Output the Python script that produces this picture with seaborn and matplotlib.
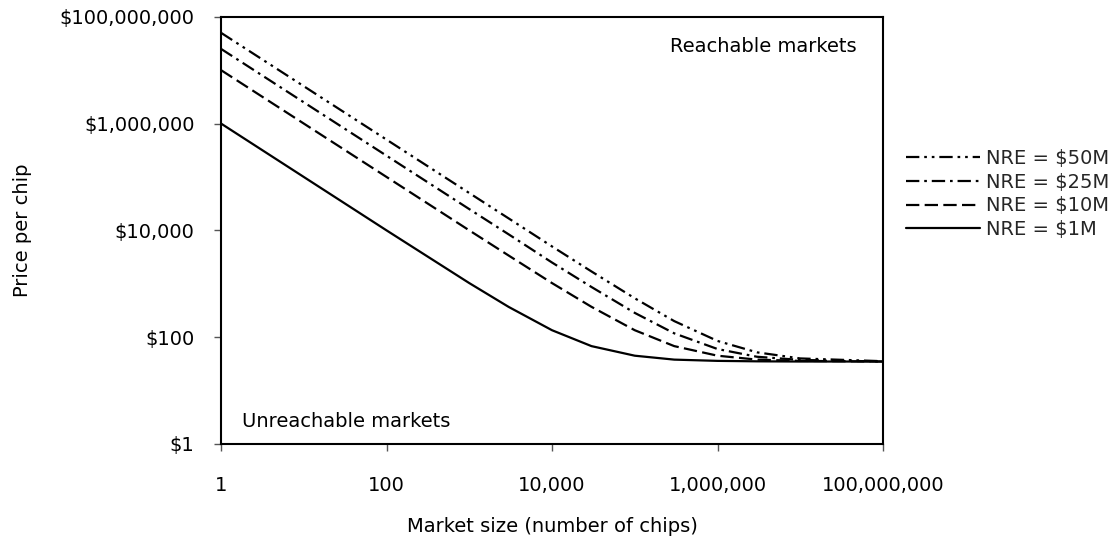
import numpy as np
import pandas as pd
import matplotlib
matplotlib.use("Agg")
import matplotlib.pyplot as plt
import matplotlib.ticker as mticker
import seaborn as sns

# ---- data ----
market_size = [1, 10, 100, 1e3, 3e3, 1e4, 3e4, 1e5, 3e5, 1e6, 3e6, 1e7, 1e8]
price_nre_50m = [5.0e7, 5.0e6, 5.0e5, 5.0e4, 1.67e4, 5.0e3, 1.7e3, 535, 200, 85, 52, 40, 35.5]
price_nre_25m = [2.5e7, 2.5e6, 2.5e5, 2.5e4, 8.4e3, 2.5e3, 870, 285, 118, 60, 43, 37.5, 35]
price_nre_10m = [1.0e7, 1.0e6, 1.0e5, 1.0e4, 3.37e3, 1.03e3, 370, 135, 68, 45, 38, 36, 35]
price_nre_1m = [1.0e6, 1.0e5, 1.0e4, 1.03e3, 368, 135, 68, 45, 38, 36, 35.3, 35, 35]
series_labels = ["NRE = $50M", "NRE = $25M", "NRE = $10M", "NRE = $1M"]
x_ticks = [1, 1e2, 1e4, 1e6, 1e8]
y_ticks = [1, 1e2, 1e4, 1e6, 1e8]

frames = []
for lab, vals in zip(series_labels, [price_nre_50m, price_nre_25m, price_nre_10m, price_nre_1m]):
    frames.append(pd.DataFrame({"Market size": market_size, "Price": vals, "Series": lab}))
df = pd.concat(frames, ignore_index=True)

sns.set_theme(style="white")
plt.rcParams["font.family"] = ["DejaVu Sans"]

W, H = 1119, 539
fig = plt.figure(figsize=(W / 100, H / 100), dpi=100)
ax = fig.add_axes([221 / W, 1 - 444 / H, (883 - 221) / W, (444 - 16.7) / H])

lw = 1.6
dashes = {
    "NRE = $50M": (6, 2.2, 1.2, 2.2, 1.2, 2.2),
    "NRE = $25M": (6, 2.2, 1.2, 2.2),
    "NRE = $10M": (6, 2.4),
    "NRE = $1M": "",
}
palette = {lab: "black" for lab in series_labels}

sns.lineplot(data=df, x="Market size", y="Price", hue="Series", style="Series",
             hue_order=series_labels, style_order=series_labels,
             palette=palette, dashes=dashes, linewidth=lw, ax=ax, legend=True)

ax.set_xscale("log")
ax.set_yscale("log")
ax.set_xlim(1, 1e8)
ax.set_ylim(1, 1e8)
ax.set_xticks(x_ticks)
ax.set_yticks(y_ticks)
ax.xaxis.set_minor_locator(mticker.NullLocator())
ax.yaxis.set_minor_locator(mticker.NullLocator())
ax.xaxis.set_major_formatter(mticker.FuncFormatter(lambda v, p: f"{v:,.0f}"))
ax.yaxis.set_major_formatter(mticker.FuncFormatter(lambda v, p: f"${v:,.0f}"))

for s in ax.spines.values():
    s.set_visible(True)
    s.set_color("black")
    s.set_linewidth(1.5)

ax.tick_params(axis="both", which="major", direction="out", length=5, width=1,
               color="#555555", labelsize=14, labelcolor="black", bottom=True, left=True)
ax.tick_params(axis="y", pad=14)
ax.tick_params(axis="x", pad=18)

ax.set_xlabel("Market size (number of chips)", fontsize=14, color="black")
ax.set_ylabel("Price per chip", fontsize=14, color="black")
ax.xaxis.set_label_coords(0.5, -0.17)
ax.yaxis.set_label_coords(-0.2855, 0.5)

ax.text(857 / W, 1 - 47 / H, "Reachable markets", transform=fig.transFigure,
        ha="right", va="center", fontsize=14, color="black")
ax.text(242 / W, 1 - 421.7 / H, "Unreachable markets", transform=fig.transFigure,
        ha="left", va="center", fontsize=14, color="black")

handles, labels = ax.get_legend_handles_labels()
ax.legend(handles, labels, loc="center left", bbox_to_anchor=(906 / W, 1 - 194 / H),
          bbox_transform=fig.transFigure, frameon=False, fontsize=14,
          handlelength=3.8, handletextpad=0.3, labelspacing=0.25,
          borderpad=0, borderaxespad=0)

fig.savefig("out.png", dpi=100, facecolor="white")
